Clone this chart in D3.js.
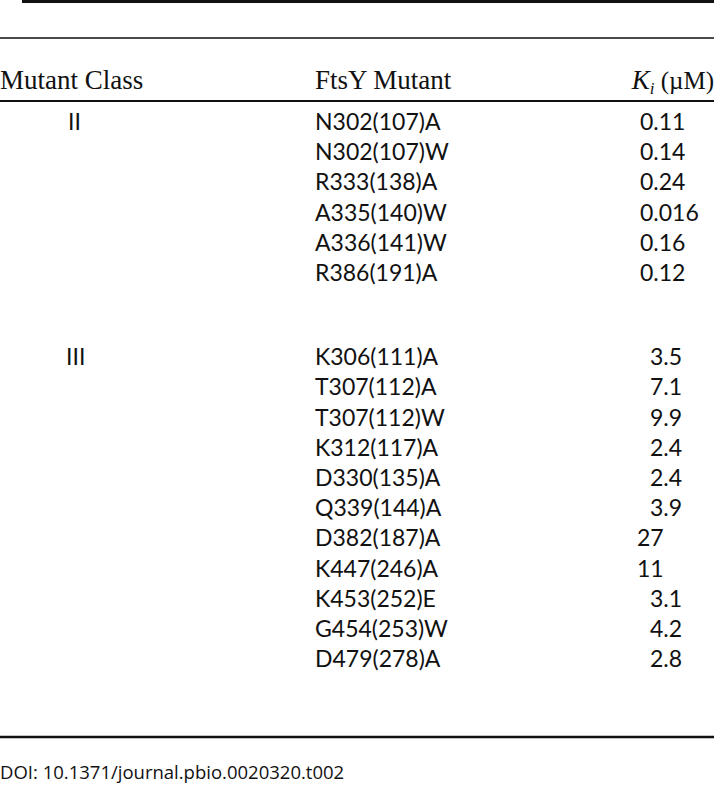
<!DOCTYPE html>
<html>
<head>
<meta charset="utf-8">
<script src="https://cdn.jsdelivr.net/npm/d3@7"></script>
<style>
  body { margin: 0; background: #fff; }
  .head { font-family: "Liberation Serif", "Times New Roman", serif; font-size: 27px; fill: #111; }
  .cell { font-family: Lato, "Open Sans", sans-serif; font-size: 23px; fill: #111; }
  .doi { font-family: "Open Sans", "Noto Sans", sans-serif; font-size: 18.5px; fill: #111; }
</style>
</head>
<body>
<div id="table"></div>
<script>
// table content
var headers = ["Mutant Class", "FtsY Mutant", "K"];
var classes = ["II", "III"];
var mutantsII = ["N302(107)A", "N302(107)W", "R333(138)A", "A335(140)W", "A336(141)W", "R386(191)A"];
var kiII = ["0.11", "0.14", "0.24", "0.016", "0.16", "0.12"];
var mutantsIII = ["K306(111)A", "T307(112)A", "T307(112)W", "K312(117)A", "D330(135)A", "Q339(144)A",
                  "D382(187)A", "K447(246)A", "K453(252)E", "G454(253)W", "D479(278)A"];
var kiIII = ["3.5", "7.1", "9.9", "2.4", "2.4", "3.9", "27", "11", "3.1", "4.2", "2.8"];
var doi = "DOI: 10.1371/journal.pbio.0020320.t002";

var width = 714;
var height = 786;
var rowStep = 30.2;
var groupGap = 54;

var svg = d3.select("#table")
    .append("svg")
    .attr("width", width)
    .attr("height", height);

// rows, with the group index
var rows = [];
mutantsII.forEach(function(m, i) {
    rows.push({group: 0, idx: i, mutant: m, ki: kiII[i]});
});
mutantsIII.forEach(function(m, i) {
    rows.push({group: 1, idx: i, mutant: m, ki: kiIII[i]});
});

var yRow = d3.scaleLinear()
    .domain([0, 1])
    .range([122, 122 + rowStep]);

function rowY(d, i) {
    return yRow(i) + (d.group === 1 ? groupGap : 0);
}

// rules
var rules = [
    {y: 1.5, x0: 22, w: 3},
    {y: 38, x0: 0, w: 1.6},
    {y: 101, x0: 0, w: 2},
    {y: 737, x0: 0, w: 2.4}
];
svg.selectAll("line.rule")
    .data(rules)
    .enter()
    .append("line")
    .attr("class", "rule")
    .attr("x1", function(d) { return d.x0; })
    .attr("x2", width)
    .attr("y1", function(d) { return d.y; })
    .attr("y2", function(d) { return d.y; })
    .attr("stroke", "#111")
    .attr("stroke-width", function(d) { return d.w; });

// header
var headY = 80;
svg.append("text")
    .attr("class", "head")
    .attr("x", 0)
    .attr("y", headY)
    .attr("dy", "0.35em")
    .text(headers[0]);

svg.append("text")
    .attr("class", "head")
    .attr("x", 315)
    .attr("y", headY)
    .attr("dy", "0.35em")
    .text(headers[1]);

var kHead = svg.append("text")
    .attr("class", "head")
    .attr("x", width)
    .attr("y", headY)
    .attr("dy", "0.35em")
    .attr("text-anchor", "end");
kHead.append("tspan").attr("font-style", "italic").text(headers[2]);
kHead.append("tspan").attr("font-style", "italic").attr("font-size", 17).attr("dy", 5).text("i");
kHead.append("tspan").attr("dy", -5).attr("font-size", 25).text(" (\u00b5M)");

// class labels
svg.selectAll("text.cls")
    .data(classes)
    .enter()
    .append("text")
    .attr("class", "cell cls")
    .attr("x", function(d, i) { return i === 0 ? 68 : 66; })
    .attr("y", function(d, i) {
        var first = rows.findIndex(function(r) { return r.group === i; });
        return rowY(rows[first], first);
    })
    .attr("dy", "0.35em")
    .text(function(d) { return d; });

// mutants
svg.selectAll("text.mut")
    .data(rows)
    .enter()
    .append("text")
    .attr("class", "cell mut")
    .attr("x", 315)
    .attr("y", rowY)
    .attr("dy", "0.35em")
    .text(function(d) { return d.mutant; });

// Ki values
svg.selectAll("text.ki")
    .data(rows)
    .enter()
    .append("text")
    .attr("class", "cell ki")
    .attr("x", function(d) {
        if (d.group === 0) return 640;
        return d.ki.indexOf(".") < 0 ? 637 : 650;
    })
    .attr("y", rowY)
    .attr("dy", "0.35em")
    .text(function(d) { return d.ki; });

// footer
svg.append("text")
    .attr("class", "doi")
    .attr("x", 0)
    .attr("y", 773)
    .attr("dy", "0.35em")
    .text(doi);
</script>
</body>
</html>
